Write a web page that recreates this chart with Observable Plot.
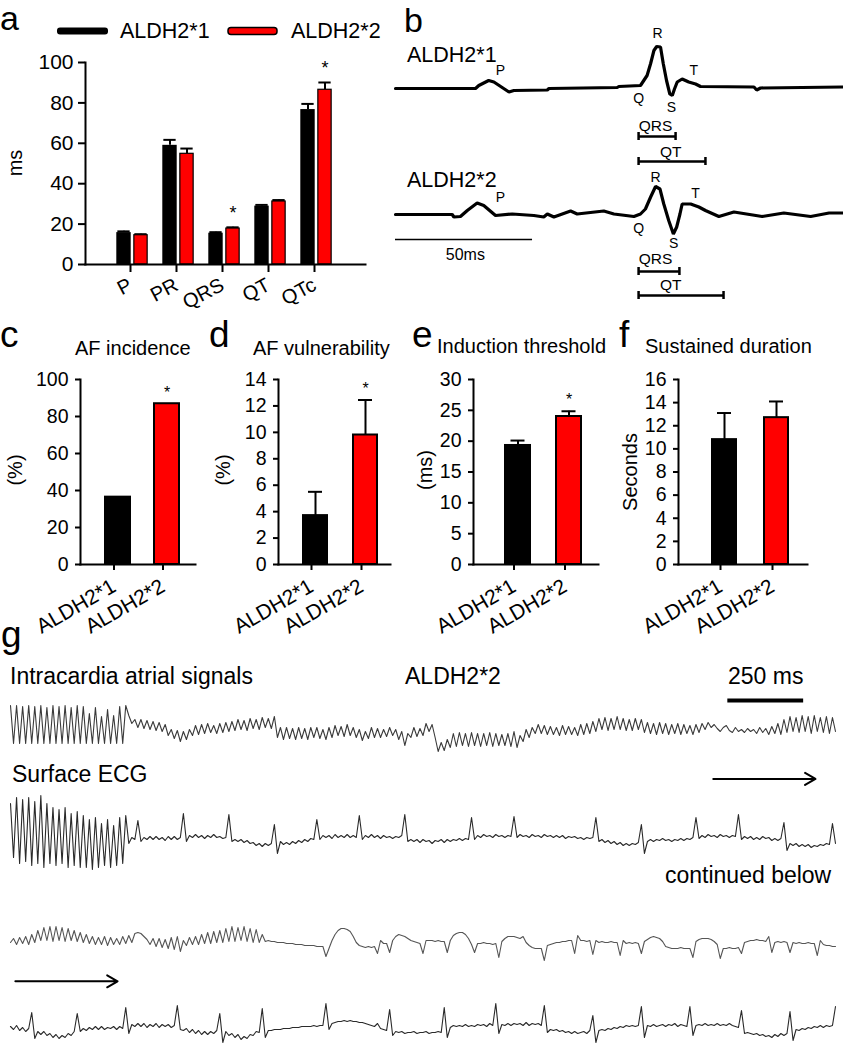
<!DOCTYPE html>
<html><head><meta charset="utf-8">
<script src="https://cdn.jsdelivr.net/npm/d3@7"></script>
<script src="https://cdn.jsdelivr.net/npm/@observablehq/plot@0.6"></script>
<style>
body{margin:0;background:#fff;}
#fig{position:relative;width:843px;height:1050px;overflow:hidden;background:#fff;}
#fig > *{position:absolute;}
</style></head><body><div id="fig"></div>
<script>
// ================= DATA =================
// Panel a: ECG intervals (ms)
const intervals = ["P", "PR", "QRS", "QT", "QTc"];
const aldh1Ms = [15.8, 59.0, 15.5, 28.9, 76.7];
const aldh1MsErr = [0.6, 2.7, 0.5, 0.6, 2.8];
const aldh2Ms = [14.5, 54.8, 17.8, 31.2, 86.5];
const aldh2MsErr = [0.5, 2.6, 0.6, 0.7, 3.6];
const aSignificant = ["QRS", "QTc"];
const aTicks = [0, 20, 40, 60, 80, 100];

// Panels c-f
const genotypes = ["ALDH2*1", "ALDH2*2"];
const afIncidence = [36.4, 86.9];
const afVulnerability = [3.7, 9.8];
const afVulnerabilityErr = [1.8, 2.65];
const inductionThreshold = [19.3, 24.0];
const inductionThresholdErr = [0.8, 0.85];
const sustainedDuration = [10.8, 12.7];
const sustainedDurationErr = [2.3, 1.4];

// Panel b: representative beats (time ms, amplitude mV)
const b1Time = [0,29.2,30.4,34,35.9,41.4,43.2,55.4,56,80.9,81.5,89.4,90.6,91.8,93.1,94.3,95.3,96.7,97.7,98.9,100.1,101,101.8,102.8,104.6,107,109.5,111.3,130.8,131.8,133.2,163];
const b1Amp = [-0.1,-0.1,0.2,0.7,0.55,-0.45,-0.3,-0.25,-0.1,0,0.1,0.2,0.7,1.2,2.4,3.7,4.1,4.05,2.4,0.7,-0.65,-0.8,-0.15,0.55,0.85,0.55,0.35,0.1,0.05,-0.25,-0.05,0.05];
const b2Time = [0,20.7,21.3,23.7,26.2,29.8,32.2,36.5,42.6,50.5,54.1,55.4,57.8,63.9,66.3,76,79.7,87,89.4,91.2,93.1,94.9,96.5,97.9,99.7,101.4,102.6,103.8,104.6,107.7,110.7,113.1,118,123.5,133.8,141.7,151.5,158.2,163];
const b2Amp = [0,0,-0.25,-0.2,0.4,1.15,0.9,-0.1,0.05,-0.1,-0.25,0.05,-0.25,0.35,0.05,0.35,0.05,-0.2,0.05,0.55,1.75,2.8,2.55,1.05,-0.6,-1.95,-1.25,0.05,1.05,1.05,0.75,0.4,-0.2,0.25,-0.2,0.15,-0.2,0.15,0.15];
const b1Waves = [{s:"P",t:38.3,a:1.7},{s:"R",t:95.6,a:5.35},{s:"T",t:108.8,a:1.65},{s:"Q",t:88.7,a:-1.15},{s:"S",t:100.7,a:-2.0}];
const b2Waves = [{s:"P",t:38.3,a:1.7},{s:"R",t:94.9,a:3.65},{s:"T",t:109.5,a:2.1},{s:"Q",t:88.7,a:-1.4},{s:"S",t:101.5,a:-2.9}];
const b1Spans = [{name:"QRS",t1:88.7,t2:102.2,a:-4.9,lt:94.9,la:-3.85},{name:"QT",t1:88.7,t2:113.1,a:-7.4,lt:100.4,la:-6.45}];
const b2Spans = [{name:"QRS",t1:88.7,t2:103.6,a:-5.7,lt:94.9,la:-4.5},{name:"QT",t1:88.7,t2:119.7,a:-8.1,lt:100.4,la:-7.1}];
const bScale = [{name:"50ms",t1:0,t2:50,a:-2.5,lt:25.5,la:-4.0}];

// Panel g: recordings sampled every 10 ms (mV)
const sampleMs = 10;
const atrialA = [1.0,-0.9,1.0,-0.9,0.95,-0.9,1.0,-0.9,0.95,-0.9,1.0,-0.9,0.9,-0.9,1.0,-0.9,0.95,-0.9,1.0,-0.9,0.9,-0.9,1.0,-0.9,0.95,-0.9,0.6,-0.9,0.9,-0.9,0.45,-0.9,0.8,-0.9,0.5,-0.9,0.95,-0.9,1.0,
0.5,0.1,0.3,-0.1,0.3,-0.15,0.25,-0.2,0.2,-0.25,0.15,-0.3,0.05,
-0.5,-0.2,-0.65,-0.25,-0.8,-0.3,-0.7,-0.2,
-0.5,0.0,-0.45,0.05,-0.4,0.1,-0.35,0.0,-0.4,0.1,-0.35,0.15,-0.3,
0.2,-0.25,0.3,-0.2,0.25,-0.25,0.35,-0.15,0.3,-0.2,0.4,-0.1,0.35,-0.15,0.45,
-0.6,-0.1,-0.7,-0.1,-0.65,-0.15,-0.7,-0.1,-0.65,-0.15,-0.7,-0.1,-0.6,-0.1,-0.65,-0.2,-0.7,-0.1,-0.6,
0.0,-0.5,-0.05,-0.55,0.05,-0.5,-0.1,-0.6,-0.2,-0.75,-0.3,-0.65,-0.1,-0.6,-0.15,
-0.6,-0.2,-0.55,-0.1,-0.5,-0.2,-0.7,-0.3,-1.0,-0.4,-0.6,-0.1,-0.55,-0.15,
-0.5,0.1,-0.3,0.05,-0.6,
-1.3,-0.85,-1.25,-0.7,
-1.1,-0.4,-1.05,-0.35,-1.0,-0.4,-1.05,-0.35,-1.0,-0.4,-1.05,-0.4,-1.0,-0.35,-1.05,-0.4,-1.0,-0.45,-1.0,-0.4,-1.05,-0.3,-1.1,
-0.5,-0.8,-0.2,-0.6,-0.1,-0.4,0.05,
-0.4,0.0,-0.45,-0.05,-0.45,-0.1,-0.5,0.0,-0.45,-0.05,-0.45,-0.1,-0.5,0.05,-0.45,0.1,-0.4,0.2,
-0.3,0.35,-0.2,0.4,-0.25,0.35,-0.2,0.45,-0.2,0.35,-0.25,0.3,-0.25,0.35,-0.2,0.3,
-0.35,0.15,-0.4,0.1,-0.45,0.15,-0.4,0.1,-0.45,0.05,-0.4,0.1,-0.45,0.05,-0.4,0.0,-0.45,0.05,-0.35,0.1,-0.2,0.15,-0.1,
0.05,-0.15,-0.3,-0.1,0.0,-0.25,-0.35,-0.1,-0.3,-0.2,-0.35,-0.15,-0.3,-0.2,
-0.4,-0.1,-0.35,-0.15,-0.45,-0.05,-0.4,0.1,-0.45,
0.3,-0.35,0.45,-0.3,0.4,-0.35,0.5,-0.3,0.45,-0.4,0.5,-0.3,0.4,-0.35,0.45,-0.4,0.4,-0.3];
const surfaceA = [1.7,-1.0,2.0,-1.3,1.9,-1.2,2.0,-1.4,1.8,-1.3,2.1,-1.5,1.7,-1.3,1.5,-1.4,1.4,-1.3,1.5,-1.5,1.2,-1.4,1.3,-1.5,1.1,-1.5,0.9,-1.6,1.0,-1.5,0.7,-1.4,0.9,-1.5,0.6,-1.4,1.0,-1.3,1.1,
-0.3,0.0,-0.1,0.85,-0.2,0.0,-0.1,0.05,-0.1,0.05,
-0.1,0.0,-0.15,0.05,-0.1,0.05,-0.1,0.0,1.2,-0.2,
0.1,0.0,0.15,0.0,0.1,-0.05,0.1,0.0,0.15,0.0,
0.05,-0.05,0.0,1.15,-0.2,-0.1,-0.2,-0.1,-0.25,-0.15,
-0.3,-0.25,-0.4,-0.3,-0.45,-0.3,-0.4,-0.3,0.65,-0.8,
-0.2,-0.35,-0.25,-0.35,-0.2,-0.3,-0.15,-0.25,-0.1,-0.2,
-0.05,-0.1,0.9,-0.1,0.1,0.0,0.1,-0.05,0.15,0.0,
0.1,0.0,0.15,0.0,0.1,0.0,1.1,-0.1,0.1,0.0,
0.15,0.0,0.1,-0.05,0.1,0.0,0.05,-0.05,0.05,0.0,
0.1,1.15,-0.2,-0.1,-0.2,-0.1,-0.25,-0.1,-0.2,-0.15,
-0.3,-0.15,-0.2,-0.1,-0.25,-0.1,-0.2,-0.1,-0.15,-0.05,
-0.15,-0.05,-0.1,1.0,-0.1,0.1,0.0,0.15,0.05,0.1,
0.0,0.15,0.05,0.1,0.0,0.1,0.05,1.05,0.0,0.15,
0.05,0.1,0.0,0.15,0.05,0.1,0.0,0.15,0.05,0.1,
0.0,0.1,0.0,0.1,-0.05,0.05,0.0,0.05,-0.05,0.0,
-0.1,0.0,-0.05,0.0,1.0,-0.2,-0.1,-0.25,-0.15,-0.3,
-0.2,-0.35,-0.25,-0.4,-0.3,-0.4,-0.3,-0.35,-0.25,0.65,
-0.8,-0.2,-0.1,-0.2,-0.1,-0.15,-0.05,-0.15,-0.1,-0.2,
-0.1,-0.15,-0.05,-0.15,-0.05,-0.1,0.0,1.0,-0.05,0.1,
0.0,0.15,0.05,0.1,0.0,0.15,0.05,0.1,0.0,0.1,
0.05,1.15,-0.1,0.05,-0.05,0.05,-0.1,0.0,-0.1,0.05,
-0.05,0.0,-0.15,-0.05,-0.15,-0.05,0.75,-0.65,-0.3,-0.4,
-0.3,-0.45,-0.35,-0.45,-0.35,-0.5,-0.4,-0.45,-0.35,-0.4,
-0.3,-0.35,0.7,-0.3];
const atrialB = [0.0,0.2,-0.1,0.25,-0.05,0.3,-0.1,0.4,0.0,0.6,
0.1,0.75,0.1,0.8,0.05,0.8,0.1,0.75,0.05,0.7,
0.1,0.6,0.05,0.5,0.0,0.4,-0.05,0.3,-0.1,0.25,
-0.1,0.3,-0.15,0.25,-0.1,0.2,-0.1,0.3,-0.05,0.35,
0.0,0.45,0.5,0.45,0.3,0.15,-0.1,0.2,-0.2,0.2,
-0.25,0.15,-0.3,0.25,-0.35,0.3,-0.45,0.1,-0.15,0.25,
-0.1,0.3,-0.1,0.4,-0.05,0.5,-0.05,0.55,0.0,0.6,
0.0,0.7,0.05,0.8,0.05,0.75,0.1,0.8,0.05,0.7,
0.0,0.65,0.0,0.4,0.05,0.1,0.05,0.05,0.0,0.0,
0.0,-0.05,-0.05,-0.05,-0.1,-0.1,-0.1,-0.15,-0.15,-0.15,
-0.15,-0.2,-0.2,-0.2,-0.7,-0.3,0.1,0.4,0.6,0.7,
0.7,0.65,0.55,0.3,0.0,-0.15,-0.2,-0.25,-0.2,-0.25,
-0.2,-0.55,0.1,-0.05,-0.05,-0.5,0.1,0.3,0.4,0.35,
0.3,0.2,0.1,0.05,0.0,-0.05,-0.55,0.1,0.1,0.1,
0.05,0.1,0.05,0.05,-0.5,0.1,0.35,0.45,0.5,0.5,
0.4,0.2,-0.1,-0.5,-0.05,-0.05,0.0,-0.05,-0.05,-0.1,
-0.05,-0.75,0.05,0.2,0.3,0.3,0.3,0.25,0.2,0.3,
0.0,-0.15,-0.25,-0.3,-0.3,-0.3,-0.9,-0.15,-0.1,-0.05,
0.0,0.0,0.05,0.05,0.1,0.1,-0.55,0.35,0.1,0.1,
0.05,0.1,-0.6,0.1,0.0,0.05,0.0,0.0,0.05,0.0,
0.0,-0.65,0.1,-0.05,0.0,-0.05,0.0,-0.05,-0.55,0.05,
0.15,0.25,0.3,0.25,0.2,0.05,-0.2,-0.25,-0.3,-0.3,
-0.3,-0.25,-0.3,-0.3,-0.3,-0.75,0.05,0.15,0.2,0.2,
0.2,0.15,0.05,-0.1,-0.8,-0.3,-0.3,-0.25,-0.3,-0.3,
-0.25,-0.55,0.0,0.05,0.1,0.1,0.15,0.1,0.1,0.05,
0.3,-0.5,0.0,0.05,0.0,0.05,0.0,-0.5,0.0,-0.05,
0.0,-0.05,-0.05,0.0,-0.05,-0.05,-0.65,0.1,-0.1,-0.15,
-0.15,-0.2,-0.2];
const surfaceB = [0.05,-0.1,0.1,-0.15,0.0,-0.2,-0.05,0.75,-0.55,-0.2,
-0.35,-0.2,-0.4,-0.3,-0.5,-0.35,-0.55,-0.4,-0.5,-0.3,
-0.4,-0.2,0.7,-0.2,-0.05,-0.15,0.0,-0.1,0.05,-0.1,
0.05,-0.1,0.0,-0.05,0.05,-0.1,0.05,-0.05,1.0,-0.3,
0.15,0.05,0.2,0.05,0.2,0.0,0.15,0.05,0.2,0.0,
0.15,0.05,0.15,0.0,0.1,1.1,-0.1,-0.15,-0.05,-0.25,
-0.1,-0.3,-0.15,-0.35,-0.2,-0.35,-0.2,-0.3,-0.15,0.7,
-0.75,-0.2,-0.4,-0.3,-0.5,-0.35,-0.6,-0.45,-0.55,-0.35,
-0.4,-0.2,-0.25,0.95,-0.5,-0.15,-0.15,-0.1,-0.1,-0.1,
-0.05,-0.05,-0.05,0.0,0.0,0.0,0.05,0.05,0.05,0.05,
0.1,0.05,0.1,0.1,1.2,-0.1,0.2,0.25,0.3,0.3,
0.35,0.3,0.35,0.3,0.3,0.25,0.25,0.2,0.15,0.1,
0.05,0.2,-0.05,-0.1,-0.15,0.9,-0.4,-0.2,-0.25,-0.2,
-0.3,-0.25,-0.25,-0.2,-0.3,-0.25,-0.25,-0.2,-0.3,-0.25,
-0.25,-0.2,-0.25,1.0,-0.5,0.0,0.1,0.05,0.1,0.05,
0.15,0.05,0.1,0.05,0.15,0.1,0.15,0.05,0.2,0.1,
1.2,-0.3,0.15,0.1,0.2,0.1,0.2,0.15,0.2,0.1,
0.25,0.1,0.2,0.15,0.2,0.1,1.1,-0.25,-0.1,-0.15,
-0.1,-0.2,-0.15,-0.25,-0.2,-0.3,-0.2,-0.3,-0.25,-0.2,
-0.3,-0.15,0.6,-0.75,-0.15,-0.1,-0.15,-0.05,-0.1,0.0,
-0.05,0.05,0.0,0.1,0.05,0.1,0.05,0.1,1.05,-0.5,
0.1,0.05,0.15,0.05,0.1,0.15,0.05,0.15,0.1,0.2,
0.05,0.15,0.1,0.05,1.05,-0.4,0.1,0.15,0.1,0.2,
0.1,0.15,0.1,0.2,0.1,0.15,0.1,0.2,0.1,0.05,
0.0,0.85,-0.3,-0.25,-0.3,-0.35,-0.3,-0.4,-0.35,-0.45,
-0.4,-0.5,-0.35,-0.45,-0.3,-0.4,-0.3,0.8,-0.65,-0.1,
-0.15,-0.05,-0.1,0.0,-0.05,0.05,0.0,0.1,0.0,0.1,
0.05,0.1,1.05];
const gScaleBar = [{t1: 2365, t2: 2615, v: 1.25}];
const gArrowTop = [{t1: 2317, t2: 2654, v: 2.93}];
const gArrowBottom = [{t1: 16, t2: 353, v: 2.31}];

// ================= DRAWING =================
const FONT = "'Liberation Sans', Arial, Helvetica, sans-serif";
const fig = document.getElementById("fig");
const baseStyle = {background: "transparent", fontFamily: FONT, color: "#000", overflow: "visible"};
function put(svg, left, top) { svg.style.left = left + "px"; svg.style.top = top + "px"; fig.appendChild(svg); }

// ---- Panel a
const aRows = intervals.map((k, i) => ({k, v1: aldh1Ms[i], e1: aldh1MsErr[i], v2: aldh2Ms[i], e2: aldh2MsErr[i]}));
const aSig = aRows.filter(d => aSignificant.includes(d.k));
put(Plot.plot({
  width: 380, height: 265, marginLeft: 85, marginRight: 15, marginTop: 22, marginBottom: 41,
  style: baseStyle,
  x: {domain: intervals, range: [107.7, 341], padding: 0},
  y: {domain: [0, 100]},
  marks: [
    Plot.ruleX(aRows, {x: "k", y1: "v1", y2: d => d.v1 + d.e1, dx: -8.5, strokeWidth: 2}),
    Plot.tickY(aRows, {x: "k", y: d => d.v1 + d.e1, insetLeft: 8.35, insetRight: 25.35, strokeWidth: 2}),
    Plot.ruleX(aRows, {x: "k", y1: "v2", y2: d => d.v2 + d.e2, dx: 8.5, strokeWidth: 2}),
    Plot.tickY(aRows, {x: "k", y: d => d.v2 + d.e2, insetLeft: 25.35, insetRight: 8.35, strokeWidth: 2}),
    Plot.barY(aRows, {x: "k", y: "v1", fill: "#000", insetLeft: 7.3, insetRight: 24.3}),
    Plot.barY(aRows, {x: "k", y: "v2", fill: "#ff0000", stroke: "#000", strokeWidth: 1.2, insetLeft: 24.85, insetRight: 7.85}),
    Plot.text(aSig, {x: "k", y: d => d.v2 + d.e2, text: () => "*", dx: 8.5, dy: -14, fontSize: 18}),
    Plot.axisY({ticks: aTicks, tickSize: 7, tickPadding: 5, fontSize: 21, strokeWidth: 2, label: null}),
    Plot.axisX({tickSize: 8, tickPadding: 11, tickRotate: -28, fontSize: 20, strokeWidth: 2, label: null, dx: -2}),
    Plot.frame({anchor: "left", strokeWidth: 2}),
    Plot.frame({anchor: "bottom", strokeWidth: 2})
  ]
}), 0, 40);

// ---- Panels c-f
function barPanel({values, errs, sig, domain, ticks, left, width, marginLeft, marginRight, range, inset, capInset}) {
  const rows = genotypes.map((g, i) => ({g, v: values[i], e: errs ? errs[i] : 0}));
  const errRows = errs ? rows : [];
  const sigRows = rows.filter(d => sig.includes(d.g));
  put(Plot.plot({
    width, height: 295, marginLeft, marginRight, marginTop: 29, marginBottom: 81,
    style: baseStyle,
    x: {domain: genotypes, range, padding: 0},
    y: {domain},
    color: {domain: genotypes, range: ["#000000", "#ff0000"]},
    marks: [
      Plot.ruleX(errRows, {x: "g", y1: "v", y2: d => d.v + d.e, strokeWidth: 2}),
      Plot.tickY(errRows, {x: "g", y: d => d.v + d.e, insetLeft: capInset, insetRight: capInset, strokeWidth: 2}),
      Plot.barY(rows, {x: "g", y: "v", fill: "g", stroke: "#000", strokeWidth: 2, insetLeft: inset, insetRight: inset}),
      Plot.text(sigRows, {x: "g", y: d => d.v + d.e, text: () => "*", dy: -11, fontSize: 16}),
      Plot.axisY({ticks, tickSize: 5, tickPadding: 7, fontSize: 19.5, strokeWidth: 2, label: null}),
      Plot.axisX({tickSize: 6, tickPadding: 14, tickRotate: -30, fontSize: 21, strokeWidth: 2, label: null, dx: -4}),
      Plot.frame({anchor: "left", strokeWidth: 2}),
      Plot.frame({anchor: "bottom", strokeWidth: 2})
    ]
  }), left, 350);
}
barPanel({values: afIncidence, errs: null, sig: ["ALDH2*2"], domain: [0, 100], ticks: [0,20,40,60,80,100],
  left: 0, width: 200, marginLeft: 80, marginRight: 5, range: [92, 191], inset: 12, capInset: 18});
barPanel({values: afVulnerability, errs: afVulnerabilityErr, sig: ["ALDH2*2"], domain: [0, 14], ticks: [0,2,4,6,8,10,12,14],
  left: 200, width: 200, marginLeft: 78, marginRight: 10, range: [90, 190], inset: 13, capInset: 18});
barPanel({values: inductionThreshold, errs: inductionThresholdErr, sig: ["ALDH2*2"], domain: [0, 30], ticks: [0,5,10,15,20,25,30],
  left: 400, width: 205, marginLeft: 73, marginRight: 7, range: [91.5, 193.5], inset: 13, capInset: 18.5});
barPanel({values: sustainedDuration, errs: sustainedDurationErr, sig: [], domain: [0, 16], ticks: [0,2,4,6,8,10,12,14,16],
  left: 605, width: 238, marginLeft: 73, marginRight: 36, range: [93, 197], inset: 14, capInset: 19});

// ---- Panel b
function beatPlot({time, amp, waves, spans, extra, height, yDomain, yRange}) {
  const ends = spans.flatMap(d => [{t: d.t1, a: d.a}, {t: d.t2, a: d.a}]);
  return Plot.plot({
    width: 463, height, margin: 0, style: baseStyle,
    x: {domain: [0, 163], range: [15, 461.7], axis: null},
    y: {domain: yDomain, range: yRange, axis: null},
    marks: [
      Plot.line(d3.zip(time, amp), {x: d => d[0], y: d => d[1], stroke: "#000", strokeWidth: 3.2, strokeLinejoin: "miter"}),
      Plot.text(waves, {x: "t", y: "a", text: "s", fontSize: 14}),
      Plot.ruleY(spans, {x1: "t1", x2: "t2", y: "a", strokeWidth: 2.5}),
      Plot.ruleX(ends, {x: "t", y1: d => d.a - 0.4, y2: d => d.a + 0.4, strokeWidth: 2.5}),
      Plot.text(spans, {x: "lt", y: "la", text: "name", fontSize: 15.5}),
      Plot.ruleY(extra, {x1: "t1", x2: "t2", y: "a", strokeWidth: 1.5}),
      Plot.text(extra, {x: "lt", y: "la", text: "name", fontSize: 16})
    ]
  });
}
put(beatPlot({time: b1Time, amp: b1Amp, waves: b1Waves, spans: b1Spans, extra: [], height: 150, yDomain: [-8, 6], yRange: [147, 7]}), 380, 20);
put(beatPlot({time: b2Time, amp: b2Amp, waves: b2Waves, spans: b2Spans, extra: bScale, height: 160, yDomain: [-9, 5], yRange: [154, 14]}), 380, 150);

// ---- Panel g
function tracePlot(values, {top, height, yDomain, stroke, width = 1.1, extra = []}) {
  put(Plot.plot({
    width: 843, height, margin: 0, style: baseStyle,
    x: {domain: [0, 2720], range: [10, 835], axis: null},
    y: {domain: yDomain, range: [height, 0], axis: null},
    marks: [Plot.lineY(values, {x: (d, i) => i * sampleMs, y: d => d, stroke, strokeWidth: width}), ...extra]
  }), 0, top);
}
tracePlot(atrialA, {top: 695, height: 60, yDomain: [-1.5, 1.5], stroke: "#3a3a3a",
  extra: [Plot.ruleY(gScaleBar, {x1: "t1", x2: "t2", y: "v", strokeWidth: 4})]});
tracePlot(surfaceA, {top: 770, height: 105, yDomain: [-1.9, 3.35], stroke: "#2a2a2a",
  extra: [Plot.arrow(gArrowTop, {x1: "t1", x2: "t2", y1: "v", y2: "v", strokeWidth: 2, headLength: 9})]});
tracePlot(atrialB, {top: 915, height: 50, yDomain: [-1.15, 1.35], stroke: "#555"});
tracePlot(surfaceB, {top: 975, height: 75, yDomain: [-1.15, 2.6], stroke: "#2a2a2a",
  extra: [Plot.arrow(gArrowBottom, {x1: "t1", x2: "t2", y1: "v", y2: "v", strokeWidth: 2, headLength: 9})]});

// ---- Text overlay (labels, titles, legend)
const overlay = d3.create("svg").attr("width", 843).attr("height", 1050)
  .style("left", "0px").style("top", "0px").style("pointer-events", "none")
  .attr("font-family", FONT);
const texts = [
  ["a", 0, 30, 34], ["b", 404, 32, 34], ["c", 0, 347, 37], ["d", 209, 347, 37], ["e", 412, 347, 37], ["f", 619, 347, 37], ["g", 1, 647, 37],
  ["ALDH2*1", 120, 38, 21.5], ["ALDH2*2", 291, 38, 21.5],
  ["ALDH2*1", 407, 62, 21.5], ["ALDH2*2", 407, 187, 21.5],
  ["AF incidence", 75, 355, 20], ["AF vulnerability", 253, 355, 20], ["Induction threshold", 437, 353, 20], ["Sustained duration", 645, 353, 20],
  ["Intracardia atrial signals", 10, 684, 23], ["ALDH2*2", 405, 684, 23], ["250 ms", 728, 684, 23],
  ["Surface ECG", 12, 782, 23], ["continued below", 665, 883, 23]
];
overlay.selectAll("text.h").data(texts).join("text").attr("class", "h")
  .attr("x", d => d[1]).attr("y", d => d[2]).attr("font-size", d => d[3]).attr("fill", "#000").text(d => d[0]);
const yLabels = [["ms", 22, 163], ["(%)", 22, 470], ["(%)", 230, 470], ["(ms)", 432, 470], ["Seconds", 637, 472]];
overlay.selectAll("text.yl").data(yLabels).join("text").attr("class", "yl")
  .attr("transform", d => `translate(${d[1]},${d[2]}) rotate(-90)`)
  .attr("text-anchor", "middle").attr("font-size", 20).attr("fill", "#000").text(d => d[0]);
overlay.append("rect").attr("x", 57).attr("y", 27.5).attr("width", 51).attr("height", 7).attr("rx", 3).attr("fill", "#000");
overlay.append("rect").attr("x", 228).attr("y", 27.5).attr("width", 49).attr("height", 7).attr("rx", 3).attr("fill", "#ff0000").attr("stroke", "#000").attr("stroke-width", 1.5);
fig.appendChild(overlay.node());
</script></body></html>
